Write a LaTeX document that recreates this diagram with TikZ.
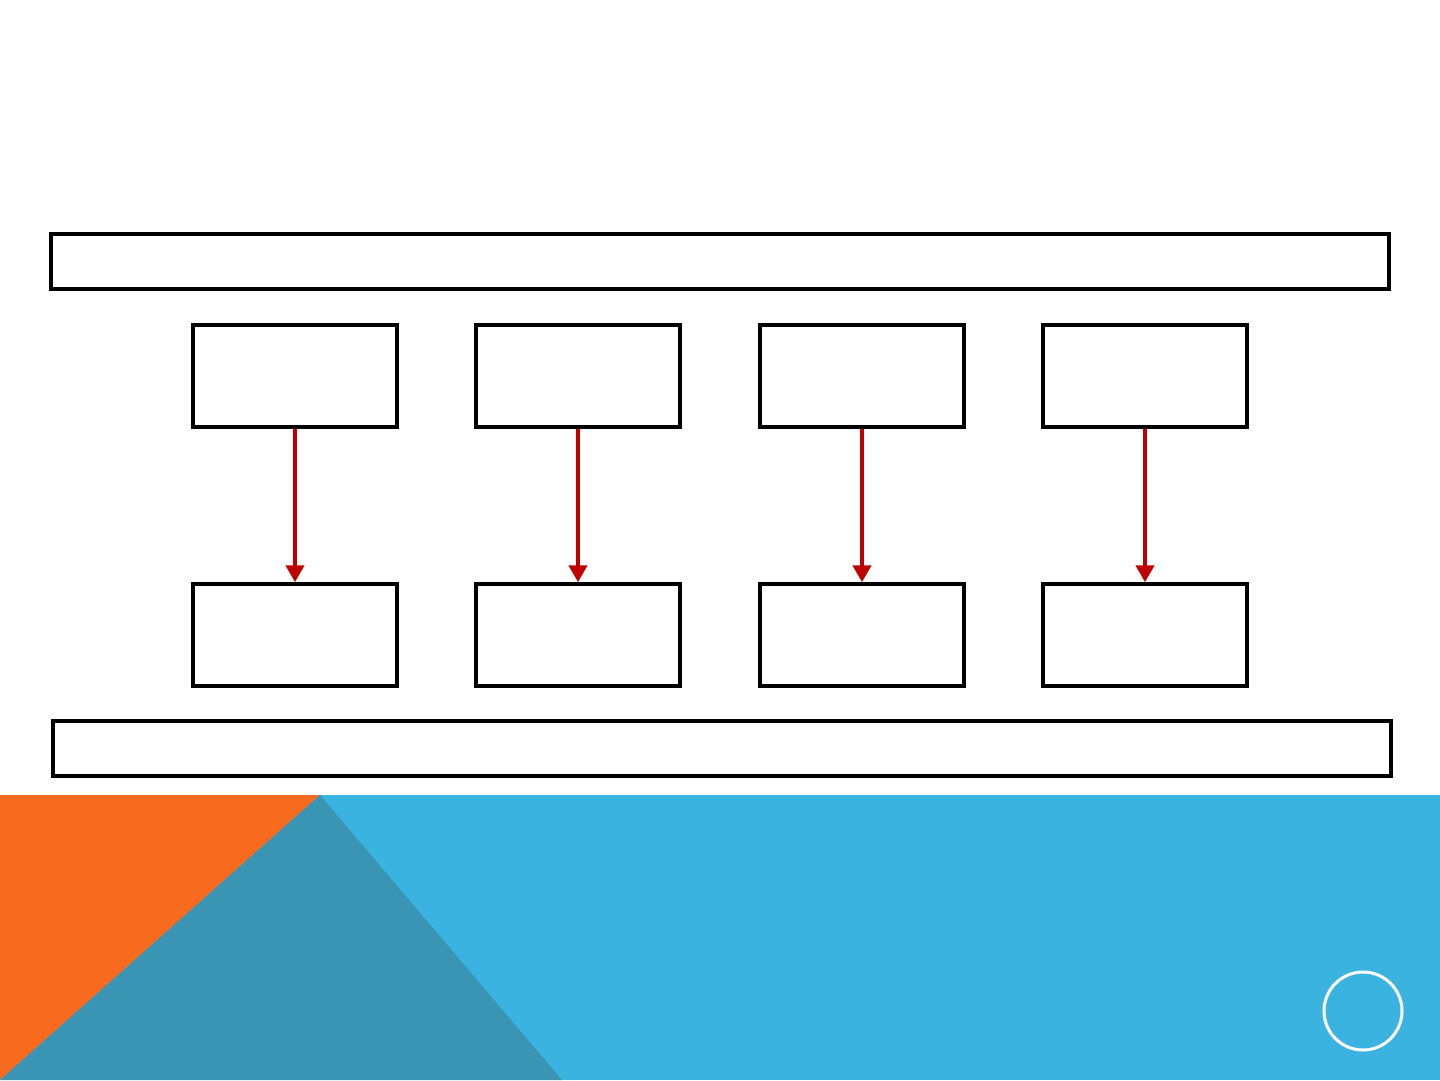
\documentclass[tikz,border=0pt]{standalone}
\usetikzlibrary{arrows.meta}
\definecolor{orng}{HTML}{F86B1E}
\definecolor{lblue}{HTML}{3BB3E0}
\definecolor{teal2}{HTML}{3A95B4}
\definecolor{arrred}{HTML}{C00000}
\begin{document}
\begin{tikzpicture}[x=1pt,y=-1pt,
  wide/.style={draw=black,line width=3.5pt,minimum width=1338pt,minimum height=55pt,inner sep=0pt},
  box/.style={draw=black,line width=3.5pt,minimum width=204pt,minimum height=102pt,inner sep=0pt},
  link/.style={draw=arrred,line width=4.5pt,-{Triangle[length=17pt,width=18pt]}}]
\fill[white] (0,0) rectangle (1440,1080);
\useasboundingbox (0,0) rectangle (1440,1080);
% bottom band
\fill[lblue] (0,795) rectangle (1440,1080);
\fill[orng] (0,795) -- (320,795) -- (0,1080) -- cycle;
\fill[teal2] (320,795) -- (562,1080) -- (0,1080) -- cycle;
\draw[white,line width=3pt] (1363,1011) circle[radius=39];
% wide boxes
\node[wide] (top) at (720,261.5) {};
\node[wide] (bot) at (722,748.5) {};
% small boxes
\foreach \i/\x in {1/295,2/578,3/862,4/1145}{
  \node[box] (t\i) at (\x,376) {};
  \node[box] (b\i) at (\x,635) {};
  \draw[link] (t\i.south) -- (b\i.north);
}
\end{tikzpicture}
\end{document}
